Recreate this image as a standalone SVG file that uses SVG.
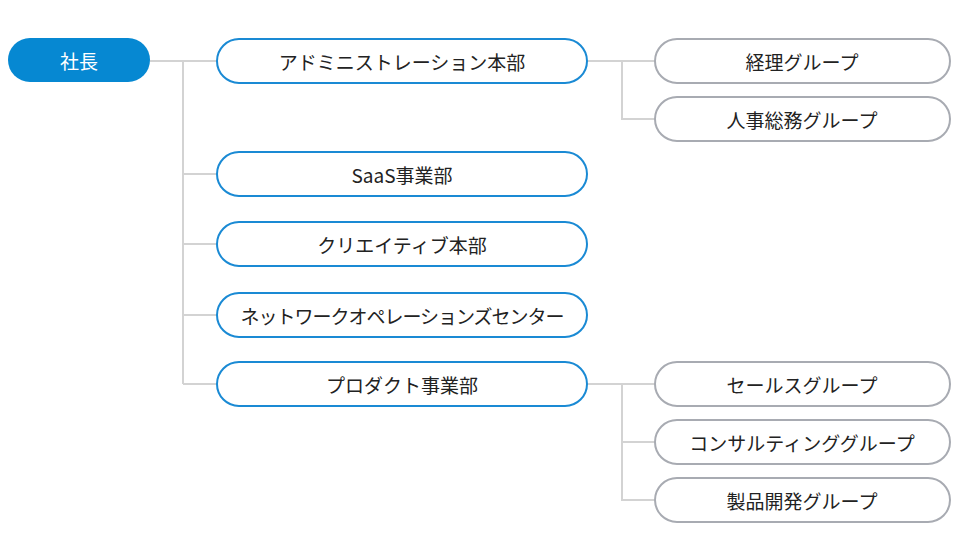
<svg xmlns="http://www.w3.org/2000/svg" width="960" height="560" viewBox="0 0 960 560">
<style>
text{font-family:"Noto Sans CJK JP","Noto Sans",sans-serif;font-size:19px;fill:#222;text-anchor:middle;dominant-baseline:central}
.b{fill:#fff;stroke:#1a8ad4;stroke-width:2}
.g{fill:#fff;stroke:#a8abb2;stroke-width:2}
.c{stroke:#d3d3d3;stroke-width:2;fill:none}
</style>
<rect width="960" height="560" fill="#fff"/>
<g id="connectors" class="c">
<path d="M150 61H217M183 61V384M183 174H217M183 244H217M183 315H217M183 384H217"/>
<path d="M587 61H655M622 61V119H655"/>
<path d="M587 384H655M622 384V500H655M622 442H655"/>
</g>
<g id="ceo"><rect x="8" y="38" width="142" height="44" rx="22" fill="#0688d2"/><text x="79" y="60" style="fill:#fff">社長</text></g>
<g id="admin"><rect class="b" x="217" y="39" width="370" height="44" rx="22"/><text x="402" y="61">アドミニストレーション本部</text></g>
<g id="saas"><rect class="b" x="217" y="152" width="370" height="44" rx="22"/><text x="402" y="174">SaaS事業部</text></g>
<g id="creative"><rect class="b" x="217" y="222" width="370" height="44" rx="22"/><text x="402" y="244">クリエイティブ本部</text></g>
<g id="noc"><rect class="b" x="217" y="293" width="370" height="44" rx="22"/><text x="402" y="315" style="letter-spacing:-1px">ネットワークオペレーションズセンター</text></g>
<g id="product"><rect class="b" x="217" y="362" width="370" height="44" rx="22"/><text x="402" y="384">プロダクト事業部</text></g>
<g id="keiri"><rect class="g" x="655" y="39" width="295" height="44" rx="22"/><text x="802" y="61">経理グループ</text></g>
<g id="jinji"><rect class="g" x="655" y="97" width="295" height="44" rx="22"/><text x="802" y="119">人事総務グループ</text></g>
<g id="sales"><rect class="g" x="655" y="362" width="295" height="44" rx="22"/><text x="802" y="384">セールスグループ</text></g>
<g id="consulting"><rect class="g" x="655" y="420" width="295" height="44" rx="22"/><text x="802" y="442">コンサルティンググループ</text></g>
<g id="dev"><rect class="g" x="655" y="478" width="295" height="44" rx="22"/><text x="802" y="500">製品開発グループ</text></g>
</svg>
